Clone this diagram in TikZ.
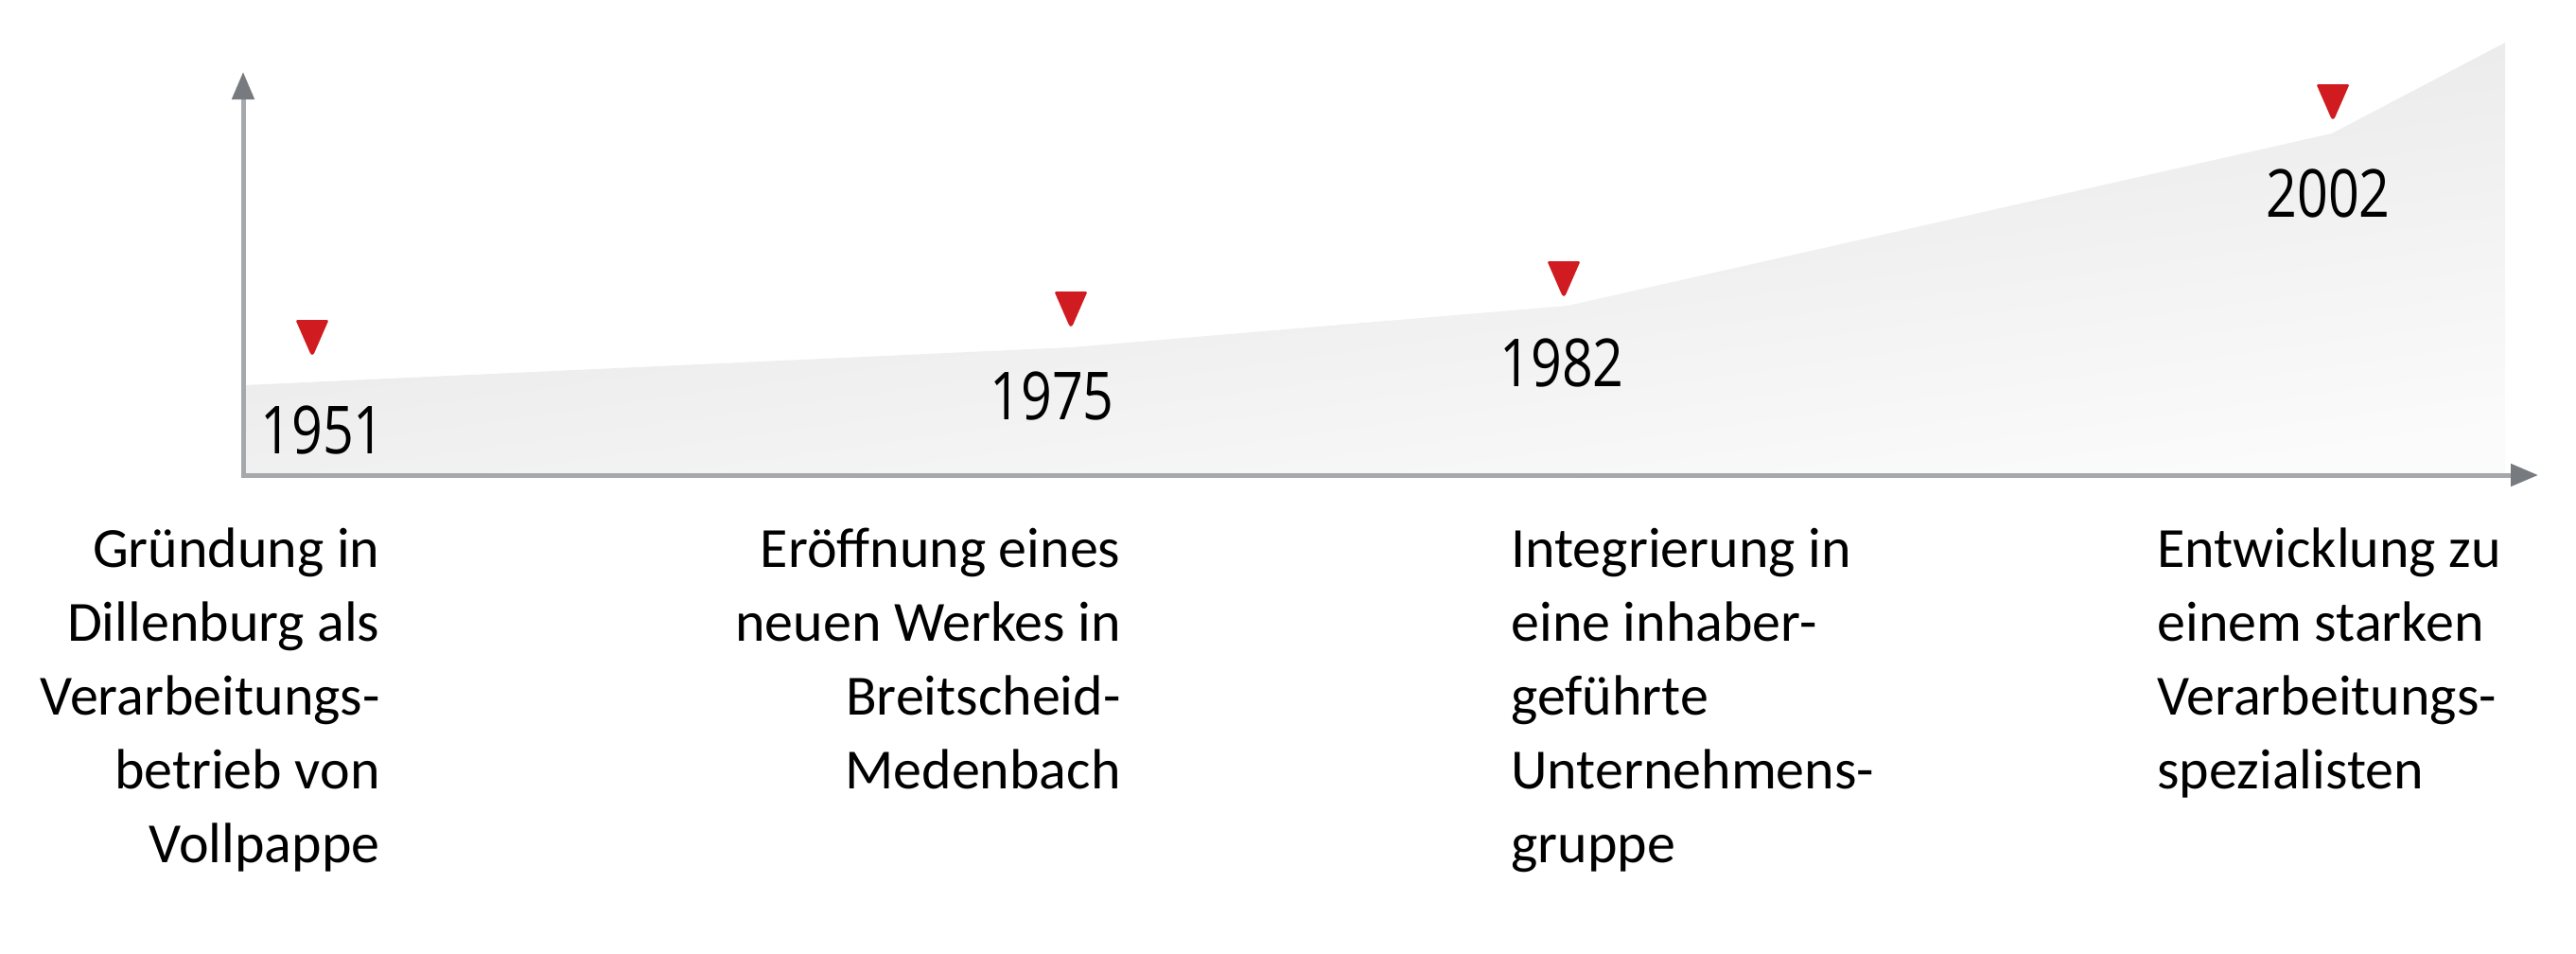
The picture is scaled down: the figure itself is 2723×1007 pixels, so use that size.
\documentclass[tikz,border=0pt]{standalone}
\usepackage{fontspec}
\setmainfont{Carlito}
\newfontfamily\yearfont{Open Sans}
\usetikzlibrary{arrows.meta}
\definecolor{axisgray}{HTML}{A6A8AB}
\definecolor{headgray}{HTML}{777B80}
\definecolor{mred}{HTML}{D01B20}
\definecolor{filltop}{HTML}{E1E1E1}
\definecolor{fillbot}{HTML}{FBFBFB}
\tikzset{
  axisline/.style={draw=axisgray, line width=2.5pt, line join=miter,
    {Triangle[length=14.5pt,width=11.5pt,color=headgray]}-{Triangle[length=14.5pt,width=11.5pt,color=headgray]}},
  yearlbl/.style={font=\yearfont\fontsize{35pt}{40pt}\selectfont, inner sep=0pt, anchor=base, text=black},
  desc/.style={font=\fontsize{30pt}{39pt}\selectfont, inner sep=0pt, text=black},
  marker/.pic={\fill[mred] (-17.5,0) [rounded corners=0.8pt] -- (17.5,0) [rounded corners=3pt] -- (0,40) [rounded corners=0.8pt] -- cycle;}
}
\begin{document}
\begin{tikzpicture}[x=0.5pt,y=-0.5pt]
\useasboundingbox (0,0) rectangle (2723,1007);
% growth area
\shade[top color=filltop, bottom color=fillbot, shading angle=8]
  (257,407) -- (1132,367) -- (1657,323) -- (2465,141) -- (2648,45) -- (2648,502) -- (257,502) -- cycle;
% axes
\coordinate (O) at (257,502);
\coordinate (ytip) at (257,76);
\coordinate (xtip) at (2683,502);
\draw[axisline] (ytip) -- (O) -- (xtip);
% markers
\pic at (330,338) {marker};
\pic at (1132,308) {marker};
\pic at (1653,276) {marker};
\pic at (2466,89) {marker};
% years
\node[yearlbl] (y1951) at (341,479) {\scalebox{0.82}[1]{1951}};
\node[yearlbl] (y1975) at (1112,443) {\scalebox{0.82}[1]{1975}};
\node[yearlbl] (y1982) at (1651,408) {\scalebox{0.82}[1]{1982}};
\node[yearlbl] (y2002) at (2461,229) {\scalebox{0.82}[1]{2002}};
% descriptions (base anchor = baseline of the last line)
\node[desc, align=right, anchor=base east] (d1) at (402,911)
  {Gründung in\\Dillenburg als\\Verarbeitungs-\\betrieb von\\Vollpappe};
\node[desc, align=right, anchor=base east] (d2) at (1185,833)
  {Eröffnung eines\\neuen Werkes in\\Breitscheid-\\Medenbach};
\node[desc, align=left, anchor=base west] (d3) at (1597,911)
  {Integrierung in\\eine inhaber-\\geführte\\Unternehmens-\\gruppe};
\node[desc, align=left, anchor=base west] (d4) at (2280,833)
  {Entwicklung zu\\einem starken\\Verarbeitungs-\\spezialisten};
\end{tikzpicture}
\end{document}
